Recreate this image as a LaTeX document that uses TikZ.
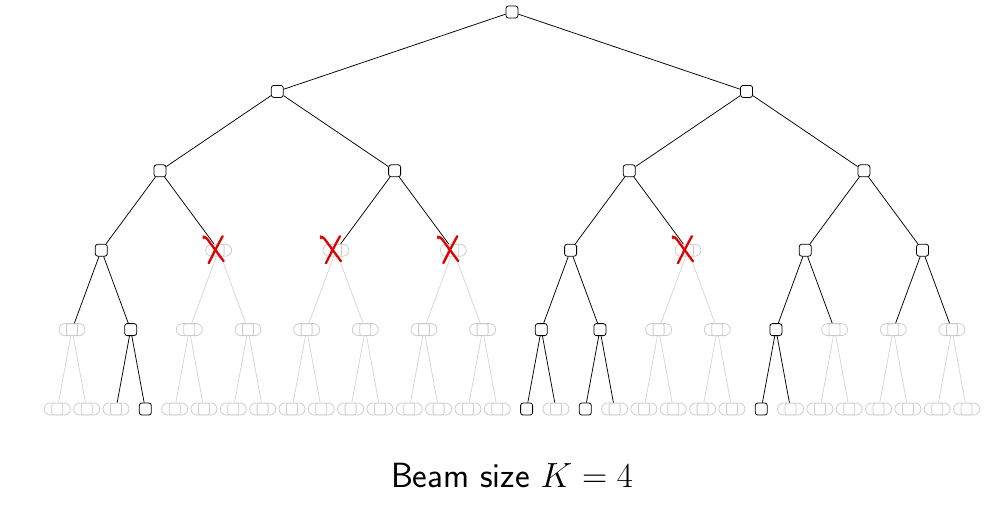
\RequirePackage{fix-cm}
\documentclass[tikz,border=0pt]{standalone}
\usepackage{tikz}
\usetikzlibrary{positioning,calc,shapes.misc}
\definecolor{cutred}{RGB}{226,0,0}
\tikzset{%
  every tnode/.style={
    minimum size=12pt,
    inner sep=0pt
  },
  tnode a/.style={
    rectangle,
    rounded corners=2.5pt,
    draw=black,
    line width=0.8pt
  },
  tnode p/.style={
    rounded rectangle,
    minimum width=26pt,
    minimum height=12pt,
    draw=black!20,
    line width=0.8pt,
    path picture={\draw[black!20, line width=0.8pt, rounded corners=2pt]
      ($(path picture bounding box.center)+(-5.5pt,-6pt)$) rectangle ++(11pt,12pt);}
  },
  link a/.style={draw=black, line width=0.75pt},
  link p/.style={draw=black!16, line width=0.75pt},
  cutmark/.style={draw=cutred, line width=2.3pt, line cap=round},
}
% which nodes survive the beam, level by level
\def\levzero{a}
\def\levone{a,a}
\def\levtwo{a,a,a,a}
\def\levthree{a,p,p,p,a,p,a,a}
\def\levfour{p,a,p,p,p,p,p,p,a,a,p,p,a,p,p,p}
\def\levfive{p,p,p,a,p,p,p,p,p,p,p,p,p,p,p,p,a,p,a,p,p,p,p,p,a,p,p,p,p,p,p,p}
\newcommand{\prunemark}[1]{%
  \draw[cutmark] ($(#1)+(-15,12)$) .. controls ($(#1)+(-16,15)$) and ($(#1)+(-12,13)$) .. ($(#1)+(-9,8)$) -- ($(#1)+(5,-11)$);
  \draw[cutmark] ($(#1)+(4,14)$) .. controls ($(#1)+(-2,3)$) .. ($(#1)+(-10,-13)$);
}

\begin{document}
\begin{tikzpicture}[x=1pt, y=1pt]
        \useasboundingbox (0,0) rectangle (1006,-507);
        \foreach \lev/\lst in {0/\levzero,1/\levone,2/\levtwo,3/\levthree,4/\levfour,5/\levfive} {
          \edef\states{\lst}
          \foreach \s [count=\i from 0] in \states {
            \pgfmathsetmacro{\xx}{57.33+29.33*(\i*2^(5-\lev)+(2^(5-\lev)-1)/2)}
            \pgfmathsetmacro{\yy}{-12-79.4*\lev}
            \node [every tnode/.try, tnode \s/.try] (t\lev-\i) at (\xx,\yy) {};
          }
        }

        \foreach \lev/\nxt/\lst in {0/1/\levzero,1/2/\levone,2/3/\levtwo,3/4/\levthree,4/5/\levfour} {
          \edef\states{\lst}
          \foreach \s [count=\i from 0] in \states {
            \pgfmathtruncatemacro{\jl}{2*\i}
            \pgfmathtruncatemacro{\jr}{2*\i+1}
            \draw [link \s] (t\lev-\i) -- (t\nxt-\jl);
            \draw [link \s] (t\lev-\i) -- (t\nxt-\jr);
          }
        }

        \foreach \i in {1,2,3,5}
          \prunemark{t3-\i};

        \node (caption) at (512,-475) {\sffamily\fontsize{35}{42}\selectfont Beam size $K=4$};
\end{tikzpicture}
\end{document}
